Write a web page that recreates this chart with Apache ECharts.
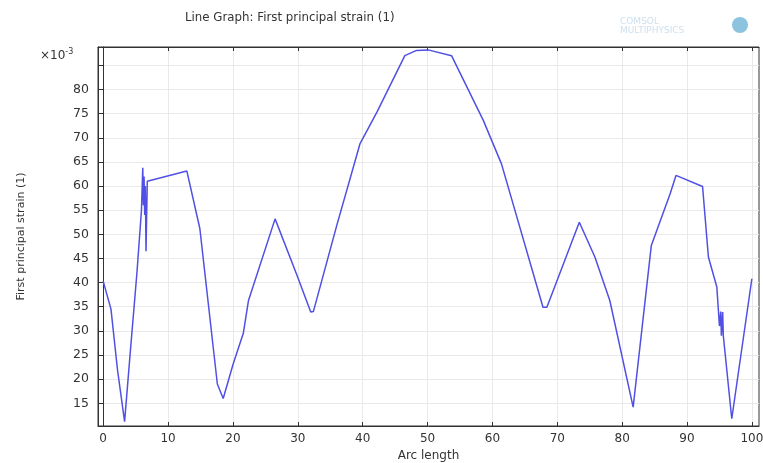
<!DOCTYPE html>
<html>
<head>
<meta charset="utf-8">
<script src="https://cdn.jsdelivr.net/npm/echarts@6/dist/echarts.min.js"></script>
<style>html,body{margin:0;padding:0;background:#fff;}#c{width:763px;height:463px;}</style>
</head>
<body>
<div id="c"></div>
<script>
// Arc length values
var arcLength = [0, 1.2, 2.2, 3.3, 4.2, 5.2, 5.9, 6.1, 6.2, 6.3, 6.4, 6.5, 6.6, 6.8, 12.9, 14.9, 17.6, 18.5, 20.0, 21.6, 22.4, 26.5, 29.8, 32.0, 32.4, 36.0, 39.6, 42.2, 46.5, 48.3, 50.1, 53.7, 58.6, 61.4, 67.8, 68.4, 73.4, 75.8, 78.1, 81.7, 84.5, 87.4, 88.3, 92.4, 93.3, 94.6, 95.0, 95.2, 95.3, 95.5, 95.6, 96.9, 100];
// First principal strain (x10^-3)
var strain = [40.3, 34.5, 22, 11.2, 26, 42, 55, 63.8, 56, 62, 54, 60, 46.5, 61, 63.1, 51.2, 19, 16, 23, 29.5, 36.3, 53.2, 41.8, 33.9, 34, 51.8, 68.8, 75.3, 87.0, 88.1, 88.2, 87.0, 73.6, 64.6, 34.9, 34.9, 52.5, 45.3, 36.3, 14.2, 47.7, 58.4, 62.2, 59.9, 45.3, 39.1, 31, 34, 29, 33.9, 29, 11.8, 40.8];
var xTicks = [0, 10, 20, 30, 40, 50, 60, 70, 80, 90, 100];
var yTicks = [15, 20, 25, 30, 35, 40, 45, 50, 55, 60, 65, 70, 75, 80, 85];
var yLabels = [15, 20, 25, 30, 35, 40, 45, 50, 55, 60, 65, 70, 75, 80];

var pts = arcLength.map(function (x, i) { return [x, strain[i]]; });
var font = 'DejaVu Sans';
var chart = echarts.init(document.getElementById('c'), null, {renderer: 'canvas'});
var gridLine = {show: true, lineStyle: {color: '#e9e9e9', width: 1}};
chart.setOption({
  backgroundColor: '#fff',
  animation: false,
  title: {
    text: 'Line Graph: First principal strain (1)',
    left: 180, top: 7,
    textStyle: {fontFamily: font, fontSize: 11.8, fontWeight: 'normal', color: '#333'}
  },
  graphic: [
    {type: 'text', left: 40, top: 48, style: {
      text: '{a|×10}{b|-3}', fill: '#333',
      rich: {a: {fontFamily: font, fontSize: 12, fill: '#333'}, b: {fontFamily: font, fontSize: 8, fill: '#333', verticalAlign: 'top', padding: [0, 0, 7, 0]}}
    }},
    {type: 'text', left: 620, top: 17, style: {
      text: 'COMSOL\nMULTIPHYSICS', fill: '#cfe0ee', fontFamily: font, fontSize: 9, align: 'right', lineHeight: 9
    }},
    {type: 'circle', left: 732, top: 17, shape: {r: 8}, style: {fill: '#8cc4e0'}}
  ],
  grid: {left: 98, right: 4, top: 47, bottom: 37, show: true, borderColor: '#333', borderWidth: 1, outerBoundsMode: 'none', containLabel: false},
  xAxis: [{
    type: 'value', min: -0.8, max: 101.1,
    name: 'Arc length', nameLocation: 'middle', nameGap: 23,
    nameTextStyle: {fontFamily: font, fontSize: 12, color: '#333'},
    axisLine: {show: true, onZero: false, lineStyle: {color: '#333'}},
    axisTick: {show: true, inside: true, length: 4, customValues: xTicks, lineStyle: {color: '#333'}},
    axisLabel: {show: true, customValues: xTicks, fontFamily: font, fontSize: 12, color: '#333', margin: 7},
    splitLine: gridLine
  }, {
    type: 'value', position: 'top', min: -0.8, max: 101.1,
    axisLine: {show: true, lineStyle: {color: '#333'}},
    axisTick: {show: true, inside: true, length: 4, customValues: xTicks, lineStyle: {color: '#333'}},
    axisLabel: {show: false}, splitLine: {show: false}
  }],
  yAxis: [{
    type: 'value', min: 10.3, max: 88.8,
    name: 'First principal strain (1)', nameLocation: 'middle', nameGap: 71, nameRotate: 90,
    nameTextStyle: {fontFamily: font, fontSize: 11, color: '#333'},
    axisLine: {show: true, onZero: false, lineStyle: {color: '#333'}},
    axisTick: {show: true, inside: true, length: 4, customValues: yTicks, lineStyle: {color: '#333'}},
    axisLabel: {show: true, customValues: yLabels, fontFamily: font, fontSize: 12.5, color: '#333', margin: 9},
    splitLine: gridLine
  }, {
    type: 'value', position: 'right', min: 10.3, max: 88.8,
    axisLine: {show: true, lineStyle: {color: '#333'}},
    axisTick: {show: true, inside: true, length: 4, customValues: yTicks, lineStyle: {color: '#333'}},
    axisLabel: {show: false}, splitLine: {show: false}
  }],
  series: [{
    type: 'line', data: pts, showSymbol: false, symbol: 'none',
    lineStyle: {color: '#5050e4', width: 1.5}
  }]
});
</script>
</body>
</html>
